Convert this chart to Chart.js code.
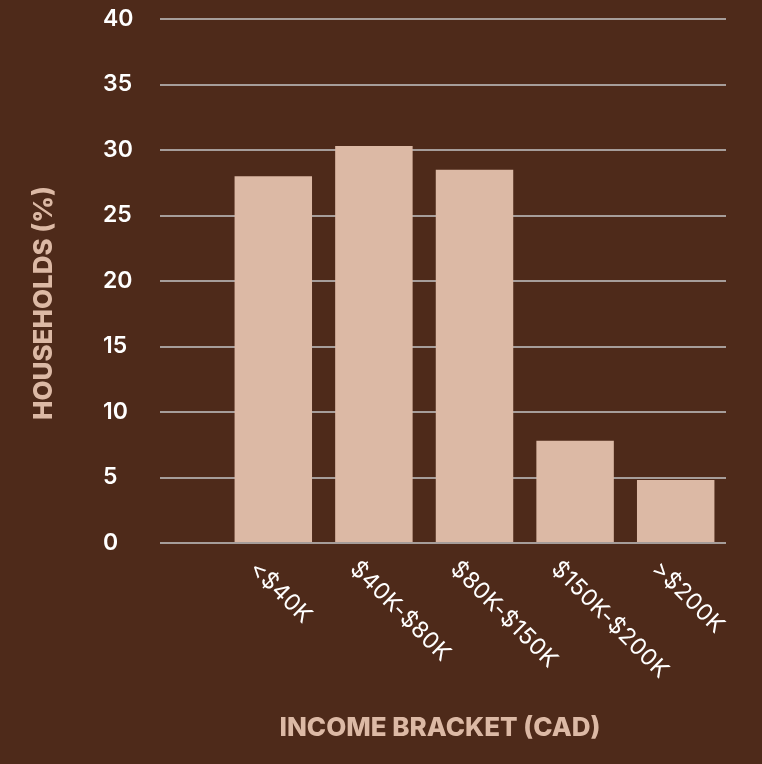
<!DOCTYPE html>
<html>
<head>
<meta charset="utf-8">
<script src="https://cdn.jsdelivr.net/npm/chart.js@4/dist/chart.umd.min.js"></script>
<style>
  html, body { margin: 0; padding: 0; background: #4e2a1a; }
  #wrap { width: 762px; height: 764px; }
</style>
</head>
<body>
<div id="wrap"><canvas id="myChart" width="762" height="764"></canvas></div>
<script>
// data
const categories = ['<$40K', '$40K-$80K', '$80K-$150K', '$150K-$200K', '>$200K'];
const households = [28.0, 30.3, 28.5, 7.8, 4.8];
const yMin = 0, yMax = 40, yStep = 5;
const xTitle = 'INCOME BRACKET (CAD)';
const yTitle = 'HOUSEHOLDS (%)';

const bg = '#4e2a1a';
const barColor = '#dcb9a5';
const gridColor = '#a69d9a';
const font = 'Inter, "Open Sans", sans-serif';

// titles + slanted category labels, drawn off the library's scales
const extraText = {
  id: 'extraText',
  afterDraw(chart) {
    const ctx = chart.ctx;
    const xs = chart.scales.x;
    const ys = chart.scales.y;
    ctx.save();
    ctx.fillStyle = '#ffffff';
    ctx.font = '400 23px ' + font;
    ctx.letterSpacing = '0.5px';
    ctx.textAlign = 'left';
    ctx.textBaseline = 'middle';
    categories.forEach((c, i) => {
      const x = xs.getPixelForValue(i) - 20;
      const y = ys.getPixelForValue(yMin) + 22;
      ctx.save();
      ctx.translate(x, y);
      ctx.rotate(Math.PI / 4);
      ctx.fillText(c, 0, 0);
      ctx.restore();
    });

    ctx.letterSpacing = '0px';
    ctx.fillStyle = barColor;
    ctx.font = '800 26px ' + font;
    ctx.textAlign = 'center';
    ctx.fillText(xTitle, 440, 728);

    ctx.save();
    ctx.translate(44, 303);
    ctx.rotate(-Math.PI / 2);
    ctx.fillText(yTitle, 0, 0);
    ctx.restore();
    ctx.restore();
  }
};

const ctx = document.getElementById('myChart');
new Chart(ctx, {
  type: 'bar',
  data: {
    labels: categories,
    datasets: [{
      data: households,
      backgroundColor: barColor,
      borderWidth: 0,
      barPercentage: 0.77,
      categoryPercentage: 1
    }]
  },
  options: {
    responsive: false,
    animation: false,
    layout: { padding: { left: 103, right: 36, top: 19, bottom: 0 } },
    plugins: {
      legend: { display: false },
      tooltip: { enabled: false }
    },
    scales: {
      x: {
        grid: { display: false },
        border: { display: false },
        ticks: { display: false },
        afterFit(s) { s.height = 221; }
      },
      y: {
        min: yMin,
        max: yMax,
        ticks: {
          stepSize: yStep,
          color: '#ffffff',
          crossAlign: 'far',
          font: { family: font, size: 23, weight: '600' }
        },
        grid: {
          color: gridColor,
          lineWidth: 2,
          tickLength: 63,
          tickColor: gridColor,
          tickWidth: 2
        },
        border: { display: false },
        afterFit(s) { s.width = 120; }
      }
    }
  },
  plugins: [extraText]
});
</script>
</body>
</html>
